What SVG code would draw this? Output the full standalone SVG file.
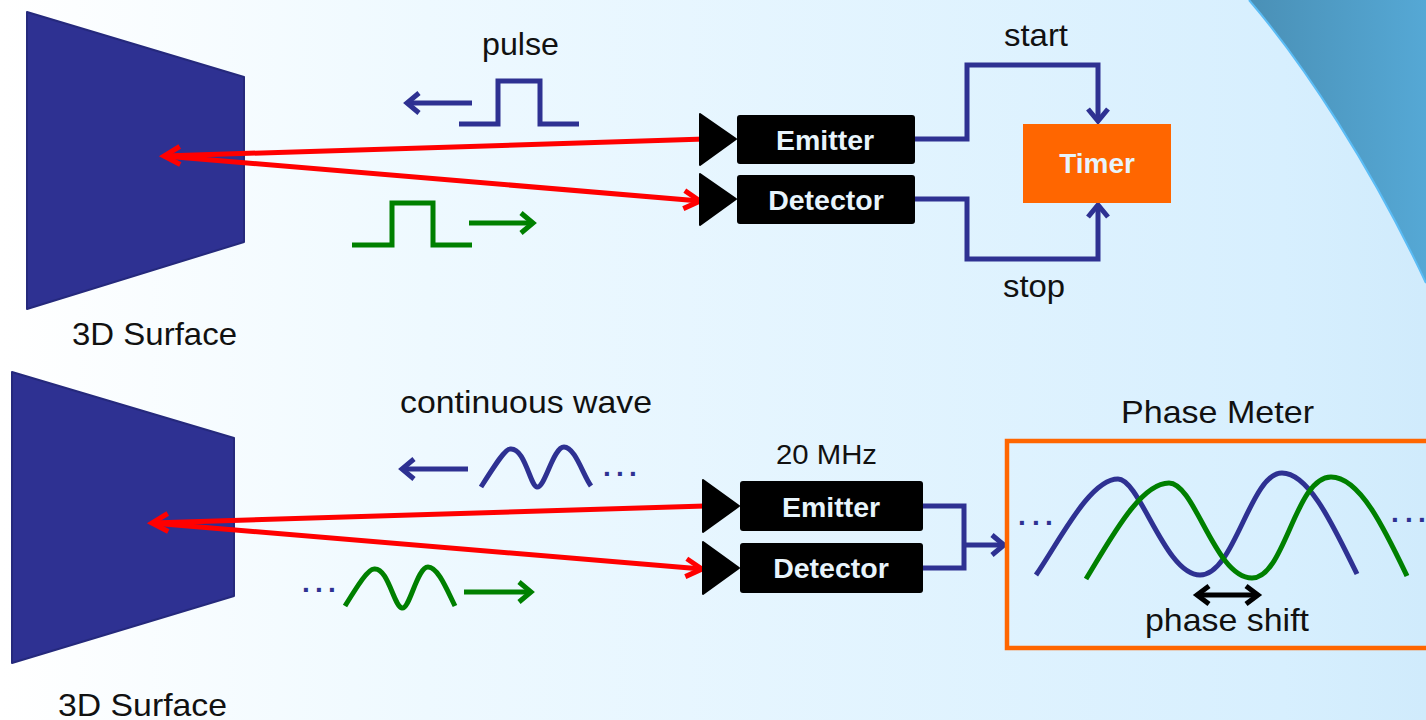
<svg xmlns="http://www.w3.org/2000/svg" width="1426" height="720" viewBox="0 0 1426 720">
<style>
text{font-family:"Liberation Sans",Arial,sans-serif;fill:#111}
.l{font-size:32px}
.w{font-size:28.5px;font-weight:bold;fill:#e8f4fc;text-anchor:middle}
.b{fill:none;stroke:#2e3192;stroke-width:5}
.g{fill:none;stroke:#008000;stroke-width:5}
.r{fill:none;stroke:#ff0000;stroke-width:5}
.s{fill:#2e3192;stroke:#25297c;stroke-width:2;stroke-linejoin:round}
.d{font-size:28px;font-weight:bold;fill:#2e3192}
.t{stroke:#000;stroke-linejoin:round;stroke-width:2}
</style>
<defs>
<linearGradient id="bg" x1="0" x2="1" y1="0" y2="0"><stop offset="0" stop-color="#ffffff"/><stop offset="0.3" stop-color="#eef9ff"/><stop offset="0.9" stop-color="#d7effe"/><stop offset="1" stop-color="#d0ebfc"/></linearGradient>
<linearGradient id="corner" x1="0" x2="1" y1="0" y2="0"><stop offset="0" stop-color="#4a90b6"/><stop offset="1" stop-color="#55a8d5"/></linearGradient>
<marker id="ab" markerUnits="userSpaceOnUse" markerWidth="28" markerHeight="28" refX="22" refY="14" orient="auto-start-reverse"><path d="M10 4L22 14L10 24" fill="none" stroke="#2e3192" stroke-width="5"/></marker>
<marker id="ag" markerUnits="userSpaceOnUse" markerWidth="28" markerHeight="28" refX="22" refY="14" orient="auto"><path d="M10 4L22 14L10 24" fill="none" stroke="#008000" stroke-width="5"/></marker>
<marker id="ar" markerUnits="userSpaceOnUse" markerWidth="30" markerHeight="30" refX="24" refY="15" orient="auto"><path d="M8 6L24 15L8 24" fill="none" stroke="#ff0000" stroke-width="5"/></marker>
<marker id="ak" markerUnits="userSpaceOnUse" markerWidth="28" markerHeight="28" refX="22" refY="14" orient="auto-start-reverse"><path d="M10 5L22 14L10 23" fill="none" stroke="#000" stroke-width="5"/></marker>
</defs>
<rect id="background" width="1426" height="720" fill="url(#bg)"/>
<path id="corner-shape" d="M1249 0C1304 64 1372 168 1426 283V0Z" fill="url(#corner)"/>
<path d="M1249 0C1304 64 1372 168 1426 283" fill="none" stroke="#5bbcf5" stroke-width="2"/>

<g id="surface-top"><path class="s" d="M27 12L244 77V242L27 309Z"/><text class="l" x="72" y="345" textLength="165" lengthAdjust="spacingAndGlyphs">3D Surface</text></g>
<g id="surface-bottom"><path class="s" d="M12 372L234 438V596L12 663Z"/><text class="l" x="58" y="716" textLength="169" lengthAdjust="spacingAndGlyphs">3D Surface</text></g>

<g id="connectors">
<path class="r" d="M705 139L164 156" marker-end="url(#ar)"/>
<path class="r" d="M164 156L700 201" marker-end="url(#ar)"/>
<path class="r" d="M705 506L152 523" marker-end="url(#ar)"/>
<path class="r" d="M152 523L702 569" marker-end="url(#ar)"/>
<path class="b" d="M472 103H407" marker-end="url(#ab)"/>
<path class="b" d="M459 124H498V81H540V124H579"/>
<path class="g" d="M352 245H392V203H433V245H472"/>
<path class="g" d="M469 223H533" marker-end="url(#ag)"/>
<path class="b" d="M914 139H967V65H1098V121" marker-end="url(#ab)"/>
<path class="b" d="M914 199H967V259H1098V205" marker-end="url(#ab)"/>
<path class="b" d="M468 469H402" marker-end="url(#ab)"/>
<path class="b" d="M481 487C495 465 505 449 510 449C525 447 530 486 537 487C545 488 553 447 564 447C575 447 583 475 591 486"/>
<path class="g" d="M345 606C358 585 368 569 374 569C388 567 394 607 402 608C410 609 417 567 428 567C438 567 447 590 455 606"/>
<path class="g" d="M464 592H531" marker-end="url(#ag)"/>
<path class="b" d="M922 506H964V568H922M964 545H1004" marker-end="url(#ab)"/>
<path class="b" d="M1036 575C1060 540 1090 479 1118 479C1140 479 1165 575 1200 575C1235 575 1250 473 1282 473C1310 473 1335 530 1357 574"/>
<path class="g" d="M1086 579C1110 540 1140 483 1169 483C1195 483 1215 578 1252 578C1285 578 1295 477 1331 477C1360 477 1385 530 1407 576"/>
<path d="M1197 595H1258" fill="none" stroke="#000" stroke-width="5" marker-start="url(#ak)" marker-end="url(#ak)"/>
</g>

<g id="emitter-top"><path class="t" d="M700 114L736 139L700 165Z"/><rect x="737" y="115" width="178" height="49" rx="3"/><text class="w" x="825" y="150">Emitter</text></g>
<g id="detector-top"><path class="t" d="M700 174L736 199L700 225Z"/><rect x="737" y="175" width="178" height="49" rx="3"/><text class="w" x="826" y="210">Detector</text></g>
<g id="timer"><rect x="1023" y="124" width="148" height="79" fill="#ff6600"/><text class="w" x="1097" y="173" style="font-size:28px">Timer</text></g>
<g id="emitter-bottom"><path class="t" d="M703 480L739 506L703 532Z"/><rect x="740" y="481" width="183" height="50" rx="3"/><text class="w" x="831" y="517">Emitter</text></g>
<g id="detector-bottom"><path class="t" d="M703 542L739 568L703 594Z"/><rect x="740" y="543" width="183" height="50" rx="3"/><text class="w" x="831" y="578">Detector</text></g>
<g id="phase-meter"><rect x="1007" y="441" width="430" height="207" fill="none" stroke="#ff6600" stroke-width="4.5"/><text class="l" x="1121" y="423" textLength="193" lengthAdjust="spacingAndGlyphs">Phase Meter</text></g>

<g id="labels">
<text class="l" x="482" y="55" textLength="77" lengthAdjust="spacingAndGlyphs">pulse</text>
<text class="l" x="1004" y="46" textLength="64" lengthAdjust="spacingAndGlyphs">start</text>
<text class="l" x="1003" y="297" textLength="62" lengthAdjust="spacingAndGlyphs">stop</text>
<text class="l" x="400" y="413" textLength="252" lengthAdjust="spacingAndGlyphs">continuous wave</text>
<text class="l" x="776" y="464" style="font-size:28px" textLength="101" lengthAdjust="spacingAndGlyphs">20 MHz</text>
<text class="l" x="1145" y="631" textLength="164" lengthAdjust="spacingAndGlyphs">phase shift</text>
<text class="d" x="603 616 629" y="476">...</text>
<text class="d" x="302 315 328" y="592">...</text>
<text class="d" x="1018 1032 1045" y="525">...</text>
<text class="d" x="1391 1405 1418" y="522">...</text>
</g>
</svg>
